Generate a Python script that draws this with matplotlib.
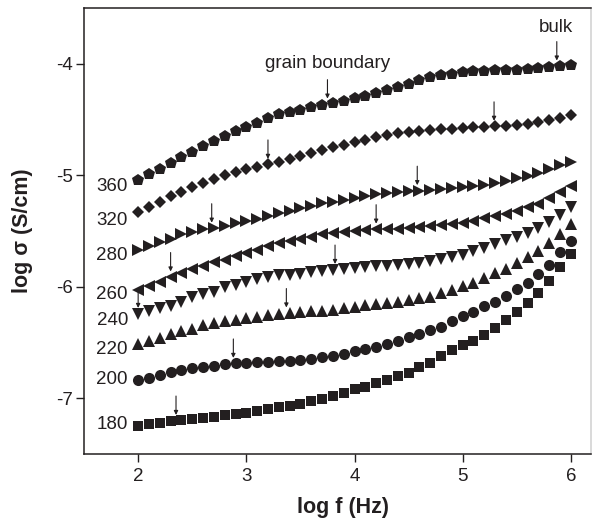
import numpy as np
import matplotlib
matplotlib.use("Agg")
import matplotlib.pyplot as plt

plt.rcParams['font.family'] = ['Liberation Sans', 'DejaVu Sans']
plt.rcParams['axes.unicode_minus'] = False

# frequency grid, log10(f / Hz)
log_f = np.linspace(2.0, 6.0, 41)

# log conductivity (S/cm) at each temperature
sigma_180 = [-7.248, -7.233, -7.221, -7.208, -7.196, -7.187, -7.178, -7.166, -7.152, -7.145,
             -7.130, -7.112, -7.097, -7.082, -7.070, -7.051, -7.027, -7.006, -6.980, -6.958,
             -6.920, -6.900, -6.866, -6.836, -6.800, -6.775, -6.725, -6.683, -6.625, -6.565,
             -6.520, -6.489, -6.433, -6.373, -6.298, -6.232, -6.148, -6.058, -5.954, -5.825,
             -5.706]
sigma_200 = [-6.840, -6.816, -6.795, -6.770, -6.749, -6.731, -6.719, -6.710, -6.695, -6.689,
             -6.683, -6.680, -6.674, -6.671, -6.665, -6.659, -6.650, -6.634, -6.619, -6.604,
             -6.580, -6.559, -6.538, -6.514, -6.489, -6.453, -6.423, -6.393, -6.360, -6.310,
             -6.266, -6.227, -6.175, -6.140, -6.085, -6.025, -5.964, -5.888, -5.804, -5.692,
             -5.588]
sigma_220 = [-6.514, -6.489, -6.459, -6.429, -6.399, -6.378, -6.347, -6.326, -6.308, -6.296,
             -6.278, -6.272, -6.257, -6.242, -6.236, -6.230, -6.221, -6.218, -6.211, -6.196,
             -6.181, -6.166, -6.157, -6.151, -6.136, -6.121, -6.106, -6.091, -6.060, -6.030,
             -5.994, -5.964, -5.920, -5.880, -5.840, -5.792, -5.734, -5.677, -5.608, -5.532,
             -5.440]
sigma_240 = [-6.242, -6.218, -6.196, -6.172, -6.136, -6.097, -6.066, -6.045, -6.006, -5.985,
             -5.955, -5.934, -5.915, -5.900, -5.894, -5.885, -5.873, -5.864, -5.849, -5.843,
             -5.834, -5.825, -5.819, -5.813, -5.807, -5.801, -5.789, -5.773, -5.752, -5.734,
             -5.713, -5.683, -5.653, -5.622, -5.586, -5.553, -5.520, -5.471, -5.420, -5.360,
             -5.285]
sigma_260 = [-6.030, -5.994, -5.955, -5.915, -5.879, -5.843, -5.813, -5.782, -5.758, -5.728,
             -5.698, -5.668, -5.637, -5.613, -5.592, -5.571, -5.553, -5.532, -5.517, -5.511,
             -5.502, -5.492, -5.486, -5.483, -5.480, -5.474, -5.468, -5.459, -5.450, -5.438,
             -5.426, -5.408, -5.385, -5.371, -5.346, -5.325, -5.286, -5.257, -5.206, -5.155,
             -5.095]
sigma_280 = [-5.674, -5.637, -5.601, -5.571, -5.532, -5.511, -5.486, -5.475, -5.456, -5.432,
             -5.411, -5.390, -5.366, -5.340, -5.320, -5.299, -5.275, -5.255, -5.239, -5.221,
             -5.203, -5.187, -5.172, -5.162, -5.154, -5.147, -5.139, -5.130, -5.122, -5.113,
             -5.104, -5.095, -5.086, -5.071, -5.057, -5.026, -5.005, -4.981, -4.945, -4.907,
             -4.886]
sigma_320 = [-5.335, -5.290, -5.239, -5.190, -5.148, -5.109, -5.069, -5.035, -5.003, -4.975,
             -4.950, -4.928, -4.905, -4.880, -4.852, -4.825, -4.798, -4.775, -4.750, -4.727,
             -4.705, -4.683, -4.662, -4.643, -4.627, -4.615, -4.605, -4.597, -4.590, -4.583,
             -4.577, -4.572, -4.568, -4.563, -4.557, -4.548, -4.539, -4.527, -4.509, -4.487,
             -4.458]
sigma_360 = [-5.045, -4.991, -4.949, -4.895, -4.841, -4.790, -4.739, -4.697, -4.649, -4.604,
             -4.568, -4.532, -4.489, -4.456, -4.438, -4.414, -4.390, -4.375, -4.354, -4.333,
             -4.312, -4.291, -4.264, -4.234, -4.210, -4.183, -4.150, -4.123, -4.105, -4.090,
             -4.078, -4.069, -4.063, -4.060, -4.054, -4.054, -4.048, -4.039, -4.030, -4.020,
             -4.009]

temps = [180, 200, 220, 240, 260, 280, 320, 360]
series = [sigma_180, sigma_200, sigma_220, sigma_240, sigma_260, sigma_280, sigma_320, sigma_360]
markers = ['s', 'o', '^', 'v', '<', '>', 'D', 'p']
sizes = [7.0, 8.0, 8.6, 8.6, 8.6, 8.6, 6.4, 8.6]
label_y = [-7.241, -6.837, -6.561, -6.304, -6.074, -5.724, -5.407, -5.101]

# grain-boundary / bulk relaxation positions marked by arrows
arrow_x = [[2.35], [2.88], [3.37], [2.0, 3.82], [2.3, 4.2], [2.68, 4.58], [3.2, 5.29], [3.75, 5.87]]

ink = '#231f20'

fig = plt.figure(figsize=(5.92, 5.21), dpi=100)
ax = fig.add_axes([0.142, 0.129, 0.857, 0.856])

for t, y, m, ms, ly, axs in zip(temps, series, markers, sizes, label_y, arrow_x):
    ax.plot(log_f, y, linestyle='none', marker=m, markersize=ms,
            color=ink, markeredgewidth=0, zorder=3)
    ax.text(1.905, ly, str(t), ha='right', va='center', fontsize=13.5, color=ink)
    for xa in axs:
        ya = np.interp(xa, log_f, y)
        ax.annotate('', xy=(xa, ya + 0.05), xytext=(xa, ya + 0.22),
                    arrowprops=dict(arrowstyle='-|>', color=ink, lw=0.8,
                                    mutation_scale=6, shrinkA=0, shrinkB=0))

ax.text(3.75, -4.0, 'grain boundary', ha='center', va='center', fontsize=13.5, color=ink)
ax.text(5.86, -3.68, 'bulk', ha='center', va='center', fontsize=13.5, color=ink)

ax.set_xlim(1.5, 6.19)
ax.set_ylim(-7.5, -3.5)
ax.set_xticks([2, 3, 4, 5, 6])
ax.set_yticks([-7, -6, -5, -4])
ax.tick_params(direction='out', length=5.5, width=1, labelsize=13.5, colors=ink)
ax.tick_params(axis='x', pad=5)
ax.tick_params(axis='y', pad=2.5)
for s in ax.spines.values():
    s.set_linewidth(1.1)
    s.set_color(ink)
ax.spines['right'].set_color('#d0d0d0')

ax.set_xlabel('log f (Hz)', fontsize=15.5, fontweight='bold', color=ink)
ax.set_ylabel('log σ (S/cm)', fontsize=15.5, fontweight='bold', color=ink)
ax.xaxis.set_label_coords(0.511, -0.098)
ax.yaxis.set_label_coords(-0.10, 0.5)

fig.savefig('out.png', dpi=100)
